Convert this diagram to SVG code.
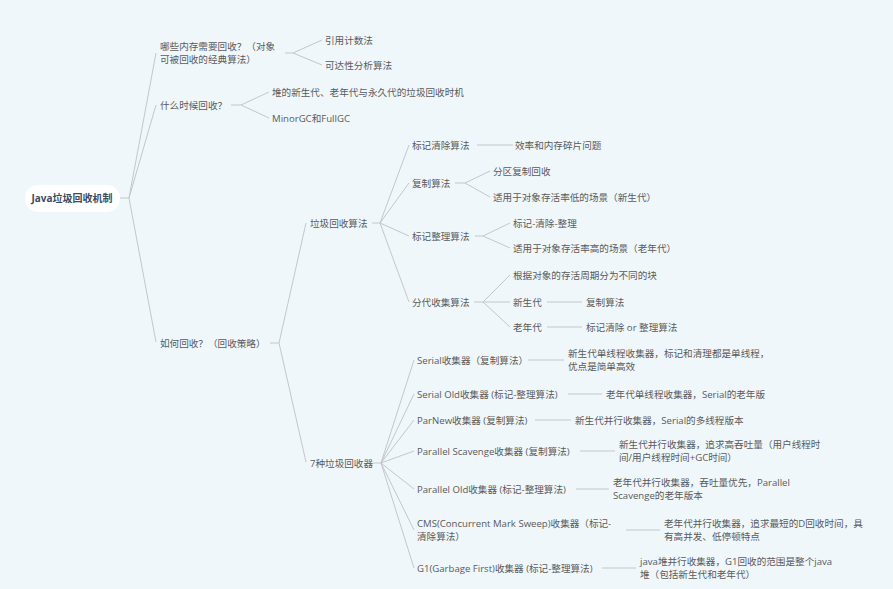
<svg xmlns="http://www.w3.org/2000/svg" width="893" height="589" viewBox="0 0 893 589">
<style>
text{font-family:"Open Sans","Noto Sans CJK SC",sans-serif;font-size:9.6px;fill:#5a5a5a}
.root{font-weight:bold;fill:#3d4a5c;font-size:10px}
.c path{fill:none;stroke:#c3c7cb;stroke-width:1}
</style>
<rect width="893" height="589" fill="#eff7fa"/>
<g class="c" id="connectors">
<path d="M120 198H129"/>
<path d="M129 198L156 53"/><path d="M129 198L156 105"/><path d="M129 198L156 342"/>
<path d="M285 53H293L322 40M293 53L322 65"/>
<path d="M231 105H241L269 92M241 105L269 118"/>
<path d="M270 343H279L306 223M279 343L306 462"/>
<path d="M372 223H380L409 145M380 223L409 183M380 223L409 236M380 223L409 302"/>
<path d="M477 145H513"/>
<path d="M455 183H465L490 171M465 183L490 197"/>
<path d="M475 236H483L510 223M483 236L510 248"/>
<path d="M474 302H483L510 275M483 302L510 302M483 302L510 327"/>
<path d="M547 302H582M547 327H582"/>
<path d="M373 463H381L414 360M381 463L414 394M381 463L414 420M381 463L414 451M381 463L414 489M381 463L414 530M381 463L414 568"/>
<path d="M528 360H564M568 394H602M535 420H571M580 451H615M576 489H609M626 530H660M602 568H636"/>
</g>
<g id="root"><rect x="25" y="185" width="95" height="27" rx="13" fill="#fff"/><text class="root" x="72" y="201.5" text-anchor="middle">Java垃圾回收机制</text></g>
<g id="n1"><text x="160" y="50">哪些内存需要回收？（对象</text><text x="160" y="62.5">可被回收的经典算法）</text></g>
<g id="n1a"><text x="325" y="43.5">引用计数法</text></g>
<g id="n1b"><text x="325" y="68.5">可达性分析算法</text></g>
<g id="n2"><text x="160" y="108.5">什么时候回收？</text></g>
<g id="n2a"><text x="272" y="95.5">堆的新生代、老年代与永久代的垃圾回收时机</text></g>
<g id="n2b"><text x="272" y="121.5">MinorGC和FullGC</text></g>
<g id="n3"><text x="160" y="346.5">如何回收？（回收策略）</text></g>
<g id="n31"><text x="310" y="226.5">垃圾回收算法</text></g>
<g id="n311"><text x="412" y="148.5">标记清除算法</text></g>
<g id="n311a"><text x="515" y="148.5">效率和内存碎片问题</text></g>
<g id="n312"><text x="412" y="186.5">复制算法</text></g>
<g id="n312a"><text x="493" y="174.5">分区复制回收</text></g>
<g id="n312b"><text x="493" y="200.5">适用于对象存活率低的场景（新生代）</text></g>
<g id="n313"><text x="412" y="239.5">标记整理算法</text></g>
<g id="n313a"><text x="513" y="226.5">标记-清除-整理</text></g>
<g id="n313b"><text x="513" y="251.5">适用于对象存活率高的场景（老年代）</text></g>
<g id="n314"><text x="412" y="305.5">分代收集算法</text></g>
<g id="n314a"><text x="513" y="278.5">根据对象的存活周期分为不同的块</text></g>
<g id="n314b"><text x="513" y="305.5">新生代</text></g>
<g id="n314b1"><text x="586" y="305.5">复制算法</text></g>
<g id="n314c"><text x="513" y="330.5">老年代</text></g>
<g id="n314c1"><text x="586" y="330.5">标记清除 or 整理算法</text></g>
<g id="n32"><text x="310" y="466.5">7种垃圾回收器</text></g>
<g id="g1"><text x="417" y="363.5">Serial收集器（复制算法）</text></g>
<g id="g1a"><text x="568" y="357">新生代单线程收集器，标记和清理都是单线程，</text><text x="568" y="369.5">优点是简单高效</text></g>
<g id="g2"><text x="417" y="397.5">Serial Old收集器 (标记-整理算法)</text></g>
<g id="g2a"><text x="606" y="397.5">老年代单线程收集器，Serial的老年版</text></g>
<g id="g3"><text x="417" y="423.5">ParNew收集器 (复制算法)</text></g>
<g id="g3a"><text x="575" y="423.5">新生代并行收集器，Serial的多线程版本</text></g>
<g id="g4"><text x="417" y="454.5">Parallel Scavenge收集器 (复制算法)</text></g>
<g id="g4a"><text x="619" y="448">新生代并行收集器，追求高吞吐量（用户线程时</text><text x="619" y="460.5">间/用户线程时间+GC时间）</text></g>
<g id="g5"><text x="417" y="492.5">Parallel Old收集器 (标记-整理算法)</text></g>
<g id="g5a"><text x="613" y="486">老年代并行收集器，吞吐量优先，Parallel</text><text x="613" y="498.5">Scavenge的老年版本</text></g>
<g id="g6"><text x="417" y="527">CMS(Concurrent Mark Sweep)收集器（标记-</text><text x="417" y="540">清除算法）</text></g>
<g id="g6a"><text x="664" y="527">老年代并行收集器，追求最短的D回收时间，具</text><text x="664" y="540">有高并发、低停顿特点</text></g>
<g id="g7"><text x="417" y="571.5">G1(Garbage First)收集器 (标记-整理算法)</text></g>
<g id="g7a"><text x="640" y="565">java堆并行收集器，G1回收的范围是整个java</text><text x="640" y="578">堆（包括新生代和老年代）</text></g>
</svg>
